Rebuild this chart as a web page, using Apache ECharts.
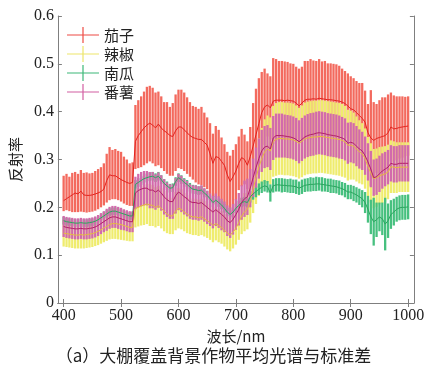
<!DOCTYPE html>
<html><head><meta charset="utf-8">
<script src="https://cdn.jsdelivr.net/npm/echarts@6/dist/echarts.min.js"></script>
<style>html,body{margin:0;padding:0;background:#fff}#c{width:427px;height:374px}</style>
</head><body><div id="c"></div>
<script>
const seriesNames = ['茄子', '辣椒', '南瓜', '番薯'];
const xTicks = [400, 500, 600, 700, 800, 900, 1000];
const yTicks = [0, 0.1, 0.2, 0.3, 0.4, 0.5, 0.6];
const wavelength = [
400,405,410,415,420,425,430,435,440,445,
450,455,460,465,470,475,480,485,490,495,
500,505,510,515,520,525,530,535,540,545,
550,555,560,565,570,575,580,585,590,595,
600,605,610,615,620,625,630,635,640,645,
650,655,660,665,670,675,680,685,690,695,
700,705,710,715,720,725,730,735,740,745,
750,755,760,765,770,775,780,785,790,795,
800,805,810,815,820,825,830,835,840,845,
850,855,860,865,870,875,880,885,890,895,
900,905,910,915,920,925,930,935,940,945,
950,955,960,965,970,975,980,985,990,995,
1000];
// 茄子 (eggplant): mean line, upper and lower ends of its error bars
const eggplantMean = [
0.214,0.218,0.222,0.226,0.230,0.228,0.234,0.226,0.225,0.225,
0.226,0.228,0.230,0.233,0.238,0.256,0.268,0.266,0.266,0.262,
0.258,0.255,0.252,0.250,0.252,0.338,0.350,0.358,0.366,0.372,
0.376,0.372,0.366,0.374,0.366,0.360,0.356,0.350,0.348,0.360,
0.368,0.368,0.362,0.356,0.350,0.346,0.344,0.342,0.342,0.336,
0.330,0.312,0.292,0.306,0.304,0.296,0.288,0.268,0.254,0.264,
0.276,0.292,0.304,0.300,0.288,0.306,0.328,0.352,0.375,0.398,
0.410,0.414,0.408,0.422,0.424,0.424,0.424,0.423,0.424,0.423,
0.422,0.418,0.412,0.418,0.424,0.426,0.426,0.427,0.426,0.428,
0.427,0.426,0.425,0.425,0.424,0.423,0.422,0.420,0.417,0.412,
0.406,0.404,0.398,0.392,0.386,0.378,0.356,0.345,0.340,0.344,
0.346,0.348,0.350,0.356,0.368,0.364,0.365,0.367,0.368,0.369,
0.370];
const eggplantUpper = [
0.266,0.270,0.264,0.272,0.274,0.270,0.278,0.272,0.273,0.271,
0.272,0.276,0.280,0.284,0.292,0.312,0.326,0.320,0.322,0.318,
0.316,0.306,0.300,0.292,0.294,0.414,0.424,0.432,0.442,0.452,
0.454,0.450,0.440,0.442,0.432,0.420,0.420,0.410,0.418,0.436,
0.446,0.446,0.440,0.430,0.420,0.412,0.410,0.406,0.410,0.398,
0.388,0.376,0.354,0.370,0.362,0.346,0.332,0.316,0.308,0.320,
0.332,0.348,0.364,0.352,0.338,0.368,0.418,0.448,0.470,0.483,
0.490,0.480,0.474,0.512,0.510,0.506,0.506,0.505,0.504,0.501,
0.500,0.494,0.490,0.494,0.506,0.506,0.510,0.507,0.506,0.510,
0.505,0.506,0.501,0.501,0.500,0.499,0.496,0.490,0.485,0.480,
0.474,0.470,0.464,0.460,0.460,0.444,0.416,0.445,0.420,0.416,
0.424,0.430,0.430,0.436,0.440,0.434,0.432,0.432,0.432,0.431,
0.432];
const eggplantLower = [
0.192,0.194,0.192,0.190,0.190,0.190,0.191,0.190,0.189,0.190,
0.191,0.193,0.196,0.200,0.204,0.210,0.215,0.217,0.217,0.215,
0.212,0.208,0.205,0.203,0.203,0.280,0.282,0.284,0.288,0.292,
0.296,0.292,0.286,0.288,0.282,0.276,0.270,0.266,0.266,0.276,
0.282,0.280,0.276,0.270,0.264,0.258,0.252,0.248,0.246,0.242,
0.238,0.228,0.215,0.222,0.220,0.214,0.206,0.192,0.180,0.188,
0.215,0.236,0.244,0.248,0.238,0.244,0.238,0.256,0.280,0.313,
0.330,0.348,0.342,0.332,0.338,0.342,0.342,0.341,0.344,0.345,
0.344,0.342,0.334,0.342,0.342,0.346,0.342,0.347,0.346,0.346,
0.349,0.346,0.349,0.349,0.348,0.347,0.348,0.350,0.349,0.344,
0.338,0.338,0.332,0.324,0.312,0.312,0.296,0.245,0.260,0.272,
0.268,0.266,0.270,0.276,0.296,0.294,0.298,0.302,0.304,0.307,
0.308];
// 辣椒 (pepper)
const pepperMean = [
0.146,0.145,0.144,0.143,0.142,0.142,0.143,0.142,0.143,0.144,
0.145,0.147,0.150,0.153,0.157,0.160,0.164,0.166,0.166,0.165,
0.164,0.162,0.160,0.158,0.158,0.198,0.200,0.203,0.205,0.207,
0.205,0.204,0.200,0.203,0.198,0.192,0.186,0.182,0.182,0.192,
0.198,0.196,0.190,0.186,0.182,0.180,0.180,0.178,0.180,0.176,
0.172,0.168,0.162,0.166,0.162,0.158,0.152,0.146,0.142,0.148,
0.156,0.168,0.182,0.190,0.196,0.214,0.238,0.262,0.284,0.302,
0.316,0.322,0.318,0.338,0.342,0.344,0.344,0.343,0.343,0.342,
0.341,0.338,0.334,0.338,0.343,0.345,0.346,0.347,0.347,0.348,
0.348,0.347,0.346,0.345,0.344,0.343,0.342,0.340,0.337,0.330,
0.330,0.328,0.322,0.316,0.312,0.302,0.285,0.272,0.260,0.262,
0.266,0.268,0.270,0.274,0.285,0.284,0.283,0.284,0.284,0.284,
0.284];
const pepperStd = [
0.028,0.028,0.028,0.028,0.028,0.028,0.029,0.028,0.028,0.028,
0.028,0.028,0.029,0.029,0.030,0.030,0.031,0.032,0.032,0.032,
0.032,0.031,0.030,0.029,0.029,0.040,0.040,0.041,0.042,0.042,
0.044,0.043,0.042,0.042,0.042,0.042,0.040,0.038,0.038,0.040,
0.042,0.042,0.040,0.040,0.038,0.038,0.038,0.038,0.038,0.037,
0.036,0.036,0.035,0.035,0.035,0.034,0.034,0.034,0.034,0.034,
0.034,0.036,0.038,0.040,0.042,0.046,0.050,0.055,0.060,0.064,
0.068,0.070,0.070,0.074,0.076,0.076,0.076,0.076,0.076,0.076,
0.076,0.075,0.074,0.075,0.076,0.076,0.076,0.076,0.076,0.076,
0.076,0.076,0.076,0.076,0.076,0.076,0.076,0.076,0.075,0.074,
0.072,0.070,0.068,0.066,0.064,0.063,0.062,0.062,0.062,0.061,
0.060,0.059,0.058,0.057,0.055,0.054,0.053,0.052,0.052,0.052,
0.052];
// 南瓜 (pumpkin)
const pumpkinMean = [
0.172,0.170,0.169,0.168,0.167,0.167,0.168,0.167,0.167,0.168,
0.169,0.171,0.174,0.178,0.182,0.186,0.190,0.192,0.192,0.190,
0.188,0.186,0.184,0.182,0.182,0.248,0.252,0.256,0.260,0.262,
0.264,0.265,0.262,0.265,0.258,0.250,0.245,0.240,0.241,0.254,
0.262,0.258,0.252,0.248,0.242,0.238,0.237,0.235,0.236,0.230,
0.225,0.218,0.210,0.215,0.210,0.205,0.198,0.190,0.185,0.190,
0.198,0.204,0.210,0.212,0.210,0.222,0.228,0.233,0.238,0.242,
0.245,0.243,0.230,0.245,0.247,0.247,0.246,0.246,0.245,0.245,
0.244,0.243,0.240,0.243,0.246,0.247,0.248,0.248,0.249,0.249,
0.248,0.247,0.246,0.245,0.244,0.243,0.241,0.239,0.236,0.232,
0.232,0.229,0.226,0.222,0.218,0.210,0.196,0.180,0.170,0.174,
0.180,0.176,0.165,0.172,0.185,0.190,0.196,0.199,0.200,0.200,
0.201];
const pumpkinStd = [
0.008,0.008,0.008,0.008,0.008,0.008,0.008,0.008,0.008,0.008,
0.008,0.008,0.008,0.008,0.008,0.008,0.008,0.008,0.008,0.008,
0.008,0.008,0.008,0.008,0.008,0.009,0.009,0.009,0.009,0.009,
0.009,0.009,0.009,0.009,0.009,0.009,0.009,0.009,0.009,0.009,
0.009,0.009,0.009,0.009,0.009,0.009,0.009,0.009,0.009,0.009,
0.009,0.009,0.009,0.009,0.009,0.009,0.009,0.009,0.009,0.009,
0.010,0.010,0.010,0.010,0.010,0.012,0.012,0.012,0.012,0.012,
0.012,0.012,0.018,0.014,0.014,0.014,0.015,0.014,0.014,0.015,
0.014,0.015,0.014,0.015,0.014,0.014,0.015,0.014,0.015,0.014,
0.015,0.014,0.014,0.015,0.014,0.014,0.015,0.014,0.015,0.015,
0.015,0.016,0.016,0.017,0.018,0.022,0.028,0.036,0.050,0.036,
0.030,0.034,0.055,0.036,0.030,0.028,0.026,0.026,0.026,0.026,
0.026];
// 番薯 (sweet potato)
const sweetPotatoMean = [
0.160,0.158,0.157,0.156,0.155,0.155,0.156,0.155,0.155,0.156,
0.157,0.159,0.162,0.166,0.170,0.174,0.178,0.180,0.180,0.178,
0.176,0.174,0.172,0.170,0.170,0.230,0.235,0.238,0.240,0.240,
0.236,0.236,0.232,0.236,0.230,0.222,0.216,0.212,0.212,0.224,
0.232,0.228,0.222,0.218,0.212,0.210,0.210,0.208,0.210,0.205,
0.200,0.195,0.190,0.195,0.190,0.185,0.180,0.172,0.168,0.175,
0.185,0.196,0.210,0.218,0.222,0.240,0.262,0.283,0.302,0.318,
0.326,0.328,0.322,0.345,0.350,0.350,0.350,0.349,0.348,0.347,
0.345,0.342,0.337,0.342,0.347,0.350,0.352,0.353,0.355,0.356,
0.355,0.354,0.352,0.351,0.350,0.349,0.347,0.345,0.342,0.334,
0.336,0.334,0.328,0.322,0.318,0.308,0.295,0.280,0.262,0.264,
0.270,0.276,0.280,0.284,0.292,0.290,0.290,0.292,0.292,0.292,
0.292];
const sweetPotatoStd = [
0.022,0.022,0.022,0.022,0.022,0.022,0.022,0.022,0.022,0.022,
0.022,0.022,0.022,0.022,0.022,0.023,0.023,0.023,0.023,0.023,
0.023,0.022,0.022,0.022,0.022,0.034,0.035,0.036,0.036,0.036,
0.038,0.038,0.037,0.037,0.037,0.037,0.036,0.036,0.036,0.037,
0.038,0.038,0.037,0.037,0.036,0.036,0.036,0.036,0.036,0.035,
0.035,0.034,0.034,0.034,0.033,0.033,0.032,0.032,0.032,0.032,
0.032,0.034,0.036,0.038,0.038,0.040,0.040,0.042,0.042,0.044,
0.044,0.044,0.044,0.046,0.046,0.046,0.046,0.045,0.045,0.045,
0.045,0.045,0.045,0.045,0.045,0.045,0.045,0.045,0.045,0.045,
0.045,0.045,0.045,0.045,0.045,0.045,0.045,0.044,0.044,0.043,
0.042,0.042,0.042,0.041,0.040,0.040,0.039,0.038,0.038,0.038,
0.038,0.037,0.036,0.036,0.038,0.038,0.038,0.038,0.038,0.038,
0.038];

const barColors = ['#F36A5E', '#EFEC6E', '#47C07F', '#D26AAB'];
const lineColors = ['#E2231F', '#E6BE3A', '#2BA55E', '#B21F67'];
const legendColors = ['#EE4B44', '#EDE56A', '#3DB878', '#D25FA2'];

function barsSeries(k, lo, hi) {
  return {
    name: seriesNames[k], type: 'custom', clip: true,
    xAxisIndex: 0, yAxisIndex: 0,
    itemStyle: { color: barColors[k] },
    encode: { x: 0, y: [1, 2] },
    data: wavelength.map((w, i) => [w, lo[i], hi[i]]),
    renderItem: function (params, api) {
      const p1 = api.coord([api.value(0), api.value(1)]);
      const p2 = api.coord([api.value(0), api.value(2)]);
      return { type: 'line', shape: { x1: p1[0], y1: p1[1], x2: p2[0], y2: p2[1] },
        style: { stroke: barColors[k], lineWidth: 2.3 } };
    }
  };
}
function meanSeries(k, mean) {
  return {
    name: seriesNames[k], type: 'line', symbol: 'none', showSymbol: false,
    xAxisIndex: 0, yAxisIndex: 0,
    lineStyle: { color: lineColors[k], width: 1 },
    itemStyle: { color: lineColors[k] },
    data: wavelength.map((w, i) => [w, mean[i]])
  };
}
const sub = (m, s) => m.map((v, i) => v - s[i]);
const add = (m, s) => m.map((v, i) => v + s[i]);

const series = [
  barsSeries(0, eggplantLower, eggplantUpper), meanSeries(0, eggplantMean),
  barsSeries(1, sub(pepperMean, pepperStd), add(pepperMean, pepperStd)), meanSeries(1, pepperMean),
  barsSeries(2, sub(pumpkinMean, pumpkinStd), add(pumpkinMean, pumpkinStd)), meanSeries(2, pumpkinMean),
  barsSeries(3, sub(sweetPotatoMean, sweetPotatoStd), add(sweetPotatoMean, sweetPotatoStd)), meanSeries(3, sweetPotatoMean)
];

const axisGrey = '#7f7f7f';
const serif = '"Liberation Serif", "Times New Roman", "DejaVu Serif", serif';
const cjk = '"Noto Sans CJK SC"';
const chart = echarts.init(document.getElementById('c'), null, { renderer: 'canvas' });
chart.setOption({
  animation: false,
  backgroundColor: '#fff',
  grid: { left: 49, top: 16, right: 12, bottom: 71, containLabel: false },
  legend: {
    orient: 'vertical', left: 62, top: 22, itemGap: 3,
    itemWidth: 32, itemHeight: 16,
    icon: 'path://M0,9.4H32V10.6H0Z M15.4,2H16.6V18H15.4Z',
    textStyle: { fontFamily: cjk, fontSize: 15, color: '#222' },
    data: seriesNames.map((n, k) => ({ name: n, itemStyle: { color: legendColors[k] } }))
  },
  xAxis: [
    { type: 'value', min: 390, max: 1010, position: 'bottom',
      name: '波长/nm', nameLocation: 'middle', nameGap: 18,
      nameTextStyle: { fontFamily: cjk, fontSize: 15, color: '#222', verticalAlign: 'top' },
      axisLine: { show: true, lineStyle: { color: axisGrey } },
      axisTick: { show: true, inside: true, length: 4, customValues: xTicks, lineStyle: { color: axisGrey } },
      axisLabel: { customValues: xTicks, fontFamily: serif, fontSize: 16, color: '#222', margin: 5,
        formatter: v => String(v) },
      splitLine: { show: false } },
    { type: 'value', min: 390, max: 1010, position: 'top',
      axisLine: { show: true, lineStyle: { color: axisGrey } },
      axisTick: { show: true, inside: true, length: 4, customValues: xTicks, lineStyle: { color: axisGrey } },
      axisLabel: { show: false }, splitLine: { show: false } }
  ],
  yAxis: [
    { type: 'value', min: 0, max: 0.6, interval: 0.1, position: 'left',
      name: '反射率', nameLocation: 'middle', nameGap: 30, nameRotate: 90,
      nameTextStyle: { fontFamily: cjk, fontSize: 15, color: '#222' },
      axisLine: { show: true, lineStyle: { color: axisGrey } },
      axisTick: { show: true, inside: true, length: 4, lineStyle: { color: axisGrey } },
      axisLabel: { fontFamily: serif, fontSize: 16, color: '#222', margin: 4,
        formatter: v => String(yTicks.find(t => Math.abs(t - v) < 1e-9) ?? v) },
      splitLine: { show: false } },
    { type: 'value', min: 0, max: 0.6, interval: 0.1, position: 'right',
      axisLine: { show: true, lineStyle: { color: axisGrey } },
      axisTick: { show: true, inside: true, length: 4, lineStyle: { color: axisGrey } },
      axisLabel: { show: false }, splitLine: { show: false } }
  ],
  graphic: [
    { type: 'text', left: 'center', top: 347,
      style: { text: '（a）大棚覆盖背景作物平均光谱与标准差', font: '17px "Noto Sans CJK SC"', fill: '#222' } }
  ],
  series: series
});
</script></body></html>
